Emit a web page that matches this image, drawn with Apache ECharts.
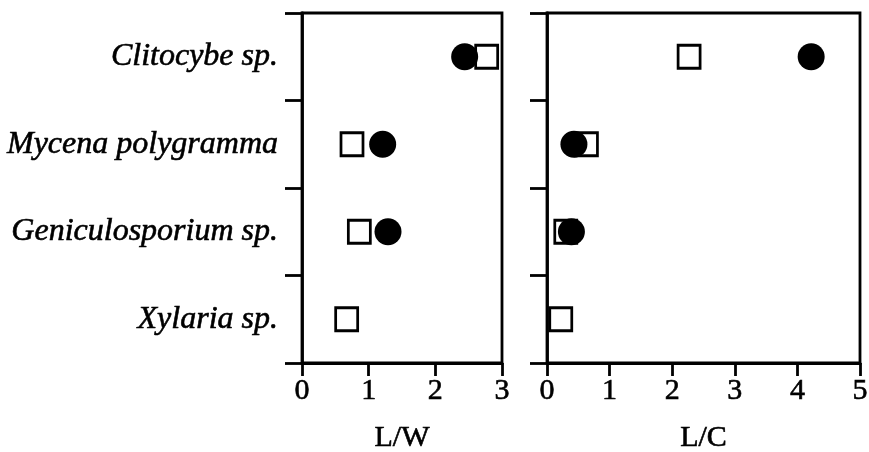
<!DOCTYPE html>
<html><head><meta charset="utf-8">
<script src="https://cdn.jsdelivr.net/npm/echarts@6/dist/echarts.min.js"></script>
<style>html,body{margin:0;padding:0;background:#fff;overflow:hidden}#c{width:869px;height:452px}</style>
</head><body><div id="c"></div>
<script>
const categories = ['Xylaria sp.', 'Geniculosporium sp.', 'Mycena polygramma', 'Clitocybe sp.'];
const lwSquares = [0.67, 0.86, 0.75, 2.77];
const lwCircles = [null, 1.29, 1.21, 2.44];
const lcSquares = [0.22, 0.30, 0.63, 2.27];
const lcCircles = [null, 0.39, 0.43, 4.22];
const lwTicks = {min: 0, max: 3, interval: 1};
const lcTicks = {min: 0, max: 5, interval: 1};

const pts = arr => arr.map((v, i) => v == null ? null : [v, categories[i]]).filter(p => p);
const font = 'Liberation Serif';
const lineStyle = {color: '#000', width: 2.8};
const heavy = {textBorderColor: '#000', textBorderWidth: 0.6};

function xAxis(idx, t, name) {
  return {
    type: 'value', gridIndex: idx, min: t.min, max: t.max, interval: t.interval,
    name: name, nameLocation: 'middle', nameGap: 60,
    nameTextStyle: Object.assign({fontFamily: font, fontSize: 30, color: '#000'}, heavy),
    axisLine: {show: true, lineStyle: lineStyle},
    axisTick: {show: true, inside: false, length: 13, lineStyle: lineStyle},
    axisLabel: Object.assign({fontFamily: font, fontSize: 30, color: '#000', margin: 13}, heavy),
    splitLine: {show: false}
  };
}
function yAxis(idx, showLabels) {
  return {
    type: 'category', gridIndex: idx, data: categories,
    axisLine: {show: true, lineStyle: lineStyle},
    axisTick: {show: true, inside: false, length: 17, lineStyle: lineStyle},
    axisLabel: Object.assign({show: showLabels, fontFamily: font, fontStyle: 'italic', fontSize: 32, color: '#000', margin: 24}, heavy),
    splitLine: {show: false}
  };
}
const sq = (idx, data) => ({
  type: 'scatter', xAxisIndex: idx, yAxisIndex: idx, data: pts(data), symbol: 'rect', symbolSize: [22, 23], z: 2,
  itemStyle: {color: '#fff', borderColor: '#000', borderWidth: 2.8, opacity: 1}
});
const ci = (idx, data) => ({
  type: 'scatter', xAxisIndex: idx, yAxisIndex: idx, data: pts(data), symbol: 'circle', symbolSize: 27, z: 3,
  itemStyle: {color: '#000', opacity: 1}
});

const chart = echarts.init(document.getElementById('c'), null, {renderer: 'canvas', width: 869, height: 452});
chart.setOption({
  animation: false,
  backgroundColor: '#fff',
  grid: [
    {left: 302, right: 367, top: 13, bottom: 89, outerBoundsMode: 'none', containLabel: false, show: true, borderColor: '#000', borderWidth: 2.8, backgroundColor: 'transparent'},
    {left: 547, right: 9, top: 13, bottom: 89, outerBoundsMode: 'none', containLabel: false, show: true, borderColor: '#000', borderWidth: 2.8, backgroundColor: 'transparent'}
  ],
  xAxis: [xAxis(0, lwTicks, 'L/W'), xAxis(1, lcTicks, 'L/C')],
  yAxis: [yAxis(0, true), yAxis(1, false)],
  series: [sq(0, lwSquares), ci(0, lwCircles), sq(1, lcSquares), ci(1, lcCircles)]
});
</script></body></html>
